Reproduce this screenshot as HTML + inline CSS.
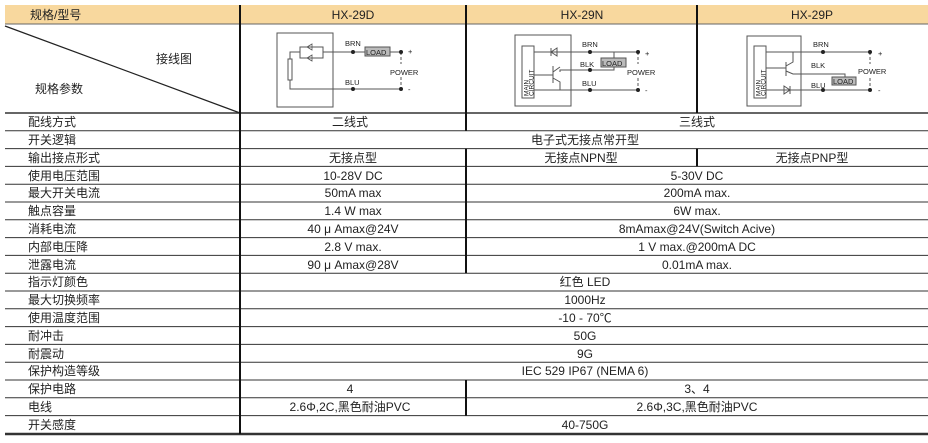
<!DOCTYPE html>
<html><head><meta charset="utf-8"><style>
html,body{margin:0;padding:0;background:#fff;width:928px;height:443px;overflow:hidden}
svg{display:block}
text{font-family:"Liberation Sans","Noto Sans CJK SC",sans-serif;fill:#222}
</style></head><body>
<svg width="928" height="443" viewBox="0 0 928 443" xmlns="http://www.w3.org/2000/svg">
<rect x="5" y="5" width="923" height="19" fill="#F8D89E"/>
<line x1="5" y1="24" x2="928" y2="24" stroke="#666" stroke-width="1"/>
<line x1="5" y1="26" x2="240" y2="113" stroke="#222" stroke-width="1.2"/>
<g font-size="12">
<text x="30" y="19">规格/型号</text>
<text x="353" y="19" text-anchor="middle">HX-29D</text>
<text x="582" y="19" text-anchor="middle">HX-29N</text>
<text x="812" y="19" text-anchor="middle">HX-29P</text>
<text x="156" y="63">接线图</text>
<text x="35" y="93">规格参数</text>
</g>
<g stroke="#333" stroke-width="1">
<line x1="5" y1="113" x2="928" y2="113" stroke-width="1.5"/>
<line x1="5" y1="130.8" x2="928" y2="130.8"/>
<line x1="5" y1="148.6" x2="928" y2="148.6"/>
<line x1="5" y1="166.4" x2="928" y2="166.4"/>
<line x1="5" y1="184.2" x2="928" y2="184.2"/>
<line x1="5" y1="202" x2="928" y2="202"/>
<line x1="5" y1="219.8" x2="928" y2="219.8"/>
<line x1="5" y1="237.6" x2="928" y2="237.6"/>
<line x1="5" y1="255.4" x2="928" y2="255.4"/>
<line x1="5" y1="273.2" x2="928" y2="273.2"/>
<line x1="5" y1="291" x2="928" y2="291"/>
<line x1="5" y1="308.8" x2="928" y2="308.8"/>
<line x1="5" y1="326.6" x2="928" y2="326.6"/>
<line x1="5" y1="344.4" x2="928" y2="344.4"/>
<line x1="5" y1="362.2" x2="928" y2="362.2"/>
<line x1="5" y1="380" x2="928" y2="380"/>
<line x1="5" y1="397.8" x2="928" y2="397.8"/>
<line x1="5" y1="415.6" x2="928" y2="415.6"/>
<line x1="5" y1="434" x2="928" y2="434" stroke-width="2.5"/>
</g>
<g stroke="#111" stroke-width="2">
<line x1="240" y1="5" x2="240" y2="434"/>
<line x1="466" y1="5" x2="466" y2="130.8"/>
<line x1="466" y1="148.6" x2="466" y2="273.2"/>
<line x1="466" y1="380" x2="466" y2="415.6"/>
<line x1="697" y1="5" x2="697" y2="113"/>
<line x1="697" y1="148.6" x2="697" y2="166.4"/>
</g>
<g font-size="12">
<text x="28" y="126">配线方式</text>
<text x="28" y="144">开关逻辑</text>
<text x="28" y="162">输出接点形式</text>
<text x="28" y="180">使用电压范围</text>
<text x="28" y="197">最大开关电流</text>
<text x="28" y="215">触点容量</text>
<text x="28" y="233">消耗电流</text>
<text x="28" y="251">内部电压降</text>
<text x="28" y="269">泄露电流</text>
<text x="28" y="286">指示灯颜色</text>
<text x="28" y="304">最大切换频率</text>
<text x="28" y="322">使用温度范围</text>
<text x="28" y="340">耐冲击</text>
<text x="28" y="358">耐震动</text>
<text x="28" y="375">保护构造等级</text>
<text x="28" y="393">保护电路</text>
<text x="28" y="411">电线</text>
<text x="28" y="429">开关感度</text>
</g>
<g font-size="12" text-anchor="middle">
<text x="350" y="126">二线式</text>
<text x="697" y="126">三线式</text>
<text x="585" y="144">电子式无接点常开型</text>
<text x="353" y="162">无接点型</text>
<text x="581" y="162">无接点NPN型</text>
<text x="812" y="162">无接点PNP型</text>
<text x="353" y="180">10-28V DC</text>
<text x="697" y="180">5-30V DC</text>
<text x="353" y="197">50mA max</text>
<text x="697" y="197">200mA max.</text>
<text x="353" y="215">1.4 W max</text>
<text x="697" y="215">6W max.</text>
<text x="353" y="233">40 μ Amax@24V</text>
<text x="697" y="233">8mAmax@24V(Switch Acive)</text>
<text x="353" y="251">2.8 V max.</text>
<text x="697" y="251">1 V max.@200mA DC</text>
<text x="353" y="269">90 μ Amax@28V</text>
<text x="697" y="269">0.01mA  max.</text>
<text x="585" y="286">红色  LED</text>
<text x="585" y="304">1000Hz</text>
<text x="585" y="322">-10 - 70℃</text>
<text x="585" y="340">50G</text>
<text x="585" y="358">9G</text>
<text x="585" y="375">IEC 529    IP67  (NEMA 6)</text>
<text x="350" y="393">4</text>
<text x="697" y="393">3、4</text>
<text x="350" y="411">2.6Φ,2C,黑色耐油PVC</text>
<text x="697" y="411">2.6Φ,3C,黑色耐油PVC</text>
<text x="585" y="429">40-750G</text>
</g>
<!-- diagram D -->
<g stroke="#555" stroke-width="1" fill="none">
<rect x="277" y="33" width="56" height="74"/>
<polyline points="290,59 290,52 300,52"/>
<rect x="300" y="47" width="23" height="11"/>
<polyline points="323,52 401,52"/>
<polyline points="290,80 290,89 401,89"/>
<rect x="288" y="59" width="4" height="21"/>
<line x1="401" y1="52" x2="401" y2="64" stroke-dasharray="3,2"/>
<line x1="401" y1="77" x2="401" y2="89" stroke-dasharray="3,2"/>
<polygon points="307,47 312,44 312,50" stroke-width=".8"/>
<polygon points="307,58 312,55 312,61" stroke-width=".8"/>
</g>
<rect x="365" y="47" width="25" height="9" fill="#bbb" stroke="#555"/>
<g fill="#222"><circle cx="353" cy="52" r="2"/><circle cx="401" cy="52" r="2"/><circle cx="353" cy="89" r="2"/><circle cx="401" cy="89" r="2"/></g>
<g font-size="7.5">
<text x="345" y="46">BRN</text><text x="366" y="55">LOAD</text><text x="345" y="85">BLU</text>
<text x="390" y="75">POWER</text><text x="408" y="54">+</text><text x="408" y="92">-</text>
</g>
<!-- diagram N -->
<g stroke="#555" stroke-width="1" fill="none">
<rect x="515" y="35" width="56" height="71"/>
<rect x="522" y="46" width="12" height="52"/>
<line x1="534" y1="52" x2="638" y2="52"/>
<polyline points="560,72 560,70 614,70 614,66"/>
<line x1="614" y1="52" x2="614" y2="58"/>
<line x1="534" y1="75" x2="553" y2="75"/>
<line x1="553" y1="66" x2="553" y2="83"/>
<line x1="553" y1="72" x2="560" y2="67"/>
<polyline points="553,78 560,82 560,90"/>
<line x1="534" y1="90" x2="638" y2="90"/>
<line x1="638" y1="52" x2="638" y2="64" stroke-dasharray="3,2"/>
<line x1="638" y1="78" x2="638" y2="90" stroke-dasharray="3,2"/>
<polygon points="551,52 557,48 557,56"/><line x1="551" y1="48" x2="551" y2="56"/>
</g>
<rect x="601" y="58" width="25" height="9" fill="#bbb" stroke="#555"/>
<g fill="#222"><circle cx="590" cy="52" r="2"/><circle cx="638" cy="52" r="2"/><circle cx="590" cy="70" r="2"/><circle cx="590" cy="90" r="2"/><circle cx="638" cy="90" r="2"/></g>
<g font-size="7.5">
<text x="582" y="47">BRN</text><text x="580" y="67">BLK</text><text x="602" y="66">LOAD</text><text x="582" y="86">BLU</text>
<text x="627" y="75">POWER</text><text x="645" y="56">+</text><text x="645" y="93">-</text>
</g>
<g font-size="6.5">
<text transform="translate(528.5,96) rotate(-90)">MAIN</text>
<text transform="translate(533.5,96) rotate(-90)">CIRCUIT</text>
<text transform="translate(760.5,96) rotate(-90)">MAIN</text>
<text transform="translate(765.5,96) rotate(-90)">CIRCUIT</text>
</g>
<!-- diagram P -->
<g stroke="#555" stroke-width="1" fill="none">
<rect x="747" y="36" width="54" height="70"/>
<rect x="754" y="46" width="12" height="52"/>
<line x1="766" y1="52" x2="870" y2="52"/>
<polyline points="793,52 793,62 786,66"/>
<line x1="766" y1="68" x2="786" y2="68"/>
<line x1="786" y1="62" x2="786" y2="76"/>
<polyline points="786,71 793,74 845,74 845,77"/>
<line x1="766" y1="90" x2="870" y2="90"/>
<line x1="870" y1="52" x2="870" y2="64" stroke-dasharray="3,2"/>
<line x1="870" y1="78" x2="870" y2="90" stroke-dasharray="3,2"/>
<polygon points="784,86 790,90 784,94"/><line x1="790" y1="86" x2="790" y2="94"/>
</g>
<rect x="832" y="77" width="24" height="8" fill="#bbb" stroke="#555"/>
<g fill="#222"><circle cx="823" cy="52" r="2"/><circle cx="870" cy="52" r="2"/><circle cx="823" cy="90" r="2"/><circle cx="870" cy="90" r="2"/></g>
<g font-size="7.5">
<text x="813" y="47">BRN</text><text x="811" y="68">BLK</text><text x="833" y="84">LOAD</text><text x="811" y="88">BLU</text>
<text x="858" y="74">POWER</text><text x="878" y="56">+</text><text x="878" y="93">-</text>
</g>
</svg>
</body></html>
